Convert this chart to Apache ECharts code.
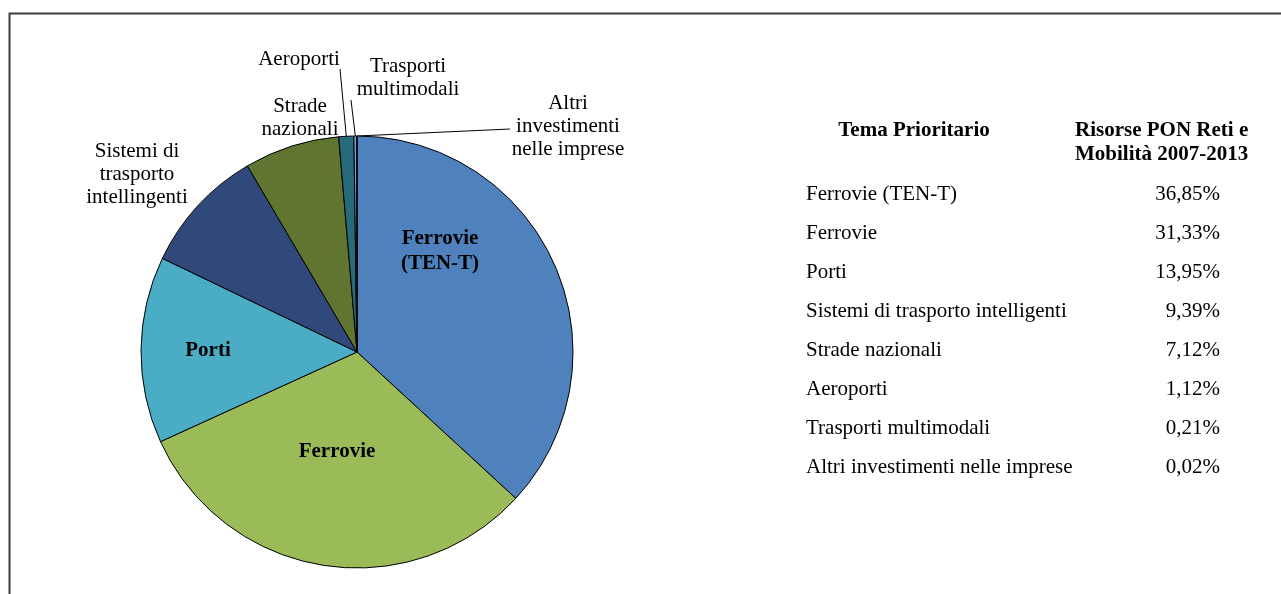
<!DOCTYPE html>
<html>
<head>
<meta charset="utf-8">
<script src="https://cdn.jsdelivr.net/npm/echarts@6/dist/echarts.min.js"></script>
<style>
  html, body { margin: 0; padding: 0; background: #fff; }
  #chart { width: 1281px; height: 594px; }
</style>
</head>
<body>
<div id="chart"></div>
<script>
// dati: temi prioritari e quota delle risorse (%)
const temi = [
    'Ferrovie (TEN-T)',
    'Ferrovie',
    'Porti',
    'Sistemi di trasporto intelligenti',
    'Strade nazionali',
    'Aeroporti',
    'Trasporti multimodali',
    'Altri investimenti nelle imprese'
];
const quote = [36.85, 31.33, 13.95, 9.39, 7.12, 1.12, 0.21, 0.02];
// etichette sulla torta (a capo come nel grafico originale)
const etichette = [
    'Ferrovie\n(TEN-T)',
    'Ferrovie',
    'Porti',
    'Sistemi di\ntrasporto\nintellingenti',
    'Strade\nnazionali',
    'Aeroporti',
    'Trasporti\nmultimodali',
    'Altri\ninvestimenti\nnelle imprese'
];
const intestazioni = ['Tema Prioritario', 'Risorse PON Reti e\nMobilità 2007-2013'];

const colori = ['#4F81BD', '#9BBB59', '#4BACC6', '#30497A', '#5F7530', '#276A7C', '#7E9DD4', '#C6D88F'];
const FONT = '"Liberation Serif", "Times New Roman", serif';

// posizione delle etichette (centro del testo) e punto d'arrivo della linea guida
const posEtichette = [
    [440, 251], [337, 452], [208, 351], [137, 174],
    [300, 118], [299, 59], [408, 78], [568, 126]
];
const fineLinea = [null, null, null, null, null, [340, 69], [351, 100], [510, 129]];

const chart = echarts.init(document.getElementById('chart'));

const dati = temi.map((t, i) => {
    const dentro = i < 3;
    return {
        name: t,
        value: quote[i],
        itemStyle: { color: colori[i] },
        label: {
            show: true,
            position: dentro ? 'inside' : 'outside',
            formatter: etichette[i],
            fontWeight: dentro ? 'bold' : 'normal',
            lineHeight: dentro ? 25 : 23
        },
        labelLine: { show: fineLinea[i] !== null }
    };
});

// tabella a destra
const grafica = [];
// cornice (solo lato sinistro e superiore)
grafica.push({
    type: 'polyline',
    shape: { points: [[9.5, 600], [9.5, 13.5], [1290, 13.5]] },
    style: { stroke: '#3c3c3c', lineWidth: 2, fill: null },
    silent: true
});
grafica.push({
    type: 'text', x: 914, y: 131,
    style: { text: intestazioni[0], font: 'bold 21px ' + FONT, fill: '#000', align: 'center', verticalAlign: 'middle' }
});
grafica.push({
    type: 'text', x: 1075, y: 143,
    style: { text: intestazioni[1], font: 'bold 21px ' + FONT, lineHeight: 24, fill: '#000', align: 'left', verticalAlign: 'middle' }
});
temi.forEach((t, i) => {
    const y = 194 + i * 39;
    grafica.push({
        type: 'text', x: 806, y: y,
        style: { text: t, font: '21px ' + FONT, fill: '#000', align: 'left', verticalAlign: 'middle' }
    });
    grafica.push({
        type: 'text', x: 1220, y: y,
        style: { text: quote[i].toFixed(2).replace('.', ',') + '%', font: '21px ' + FONT, fill: '#000', align: 'right', verticalAlign: 'middle' }
    });
});

const option = {
    backgroundColor: '#ffffff',
    animation: false,
    textStyle: { fontFamily: FONT },
    series: [{
        type: 'pie',
        center: [357, 352],
        radius: 216,
        startAngle: 90,
        clockwise: true,
        avoidLabelOverlap: false,
        minAngle: 0,
        itemStyle: { borderColor: '#000', borderWidth: 1 },
        label: {
            color: '#000',
            fontSize: 21,
            fontFamily: FONT
        },
        labelLine: {
            length: 10,
            length2: 10,
            lineStyle: { color: '#000', width: 1 }
        },
        emphasis: { disabled: true },
        labelLayout: function (p) {
            const i = p.dataIndex;
            const res = {
                x: posEtichette[i][0],
                y: posEtichette[i][1],
                align: 'center',
                verticalAlign: 'middle'
            };
            if (fineLinea[i] && p.labelLinePoints) {
                const a = p.labelLinePoints[0];
                res.labelLinePoints = [a, fineLinea[i], fineLinea[i]];
            }
            return res;
        },
        data: dati
    }],
    graphic: grafica
};

chart.setOption(option);
</script>
</body>
</html>
